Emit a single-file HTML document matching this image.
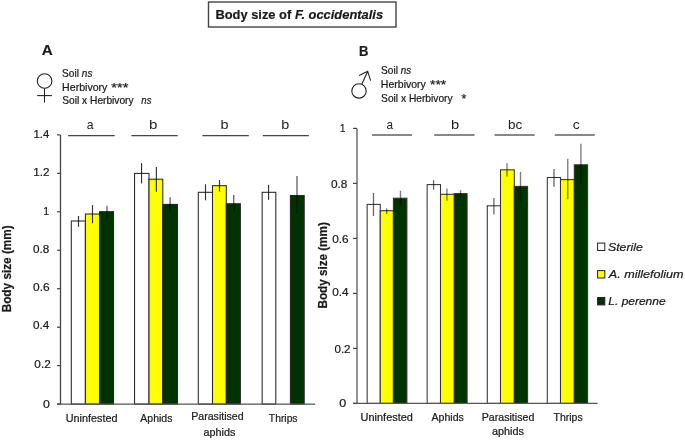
<!DOCTYPE html>
<html><head><meta charset="utf-8"><style>
html,body{margin:0;padding:0;background:#fff;}
svg{display:block;will-change:transform;}
text{font-family:"Liberation Sans", sans-serif;fill:#1a1a1a;stroke:#1a1a1a;stroke-width:0.22px;}
text.thin{stroke-width:0;fill:#222;}
</style></head><body>
<svg width="685" height="440" viewBox="0 0 685 440">
<rect x="208.5" y="2" width="187.5" height="25" fill="#fff" stroke="#444" stroke-width="1.4"/>
<text x="215.47" y="19.20" font-size="13.2" font-weight="bold" font-style="normal" textLength="75.72" lengthAdjust="spacingAndGlyphs">Body size of</text>
<text x="294.96" y="19.20" font-size="13.2" font-weight="bold" font-style="italic" textLength="88.11" lengthAdjust="spacingAndGlyphs">F. occidentalis</text>
<text x="41.80" y="55.40" font-size="15.3" font-weight="bold" font-style="normal" textLength="11.00" lengthAdjust="spacingAndGlyphs">A</text>
<text x="359.05" y="55.90" font-size="15.3" font-weight="bold" font-style="normal" textLength="9.44" lengthAdjust="spacingAndGlyphs">B</text>
<text x="62.11" y="77.00" font-size="10.2" font-weight="normal" font-style="normal" textLength="16.80" lengthAdjust="spacingAndGlyphs">Soil</text>
<text x="81.86" y="77.00" font-size="10.2" font-weight="normal" font-style="italic" textLength="10.51" lengthAdjust="spacingAndGlyphs">ns</text>
<text x="62.12" y="90.60" font-size="10.2" font-weight="normal" font-style="normal" textLength="45.26" lengthAdjust="spacingAndGlyphs">Herbivory</text>
<text x="111.30" y="92.20" font-size="12.0" font-weight="normal" font-style="normal" textLength="17.02" lengthAdjust="spacingAndGlyphs">***</text>
<text x="62.30" y="104.40" font-size="10.2" font-weight="normal" font-style="normal" textLength="71.32" lengthAdjust="spacingAndGlyphs">Soil x Herbivory</text>
<text x="141.37" y="104.40" font-size="10.2" font-weight="normal" font-style="italic" textLength="10.09" lengthAdjust="spacingAndGlyphs">ns</text>
<text x="381.11" y="74.40" font-size="10.2" font-weight="normal" font-style="normal" textLength="16.80" lengthAdjust="spacingAndGlyphs">Soil</text>
<text x="400.76" y="74.40" font-size="10.2" font-weight="normal" font-style="italic" textLength="10.41" lengthAdjust="spacingAndGlyphs">ns</text>
<text x="380.83" y="87.90" font-size="10.2" font-weight="normal" font-style="normal" textLength="45.06" lengthAdjust="spacingAndGlyphs">Herbivory</text>
<text x="430.01" y="88.90" font-size="12.0" font-weight="normal" font-style="normal" textLength="16.30" lengthAdjust="spacingAndGlyphs">***</text>
<text x="381.10" y="101.50" font-size="10.2" font-weight="normal" font-style="normal" textLength="71.52" lengthAdjust="spacingAndGlyphs">Soil x Herbivory</text>
<text x="461.64" y="102.60" font-size="12.0" font-weight="normal" font-style="normal" textLength="4.84" lengthAdjust="spacingAndGlyphs">*</text>
<text x="86.72" y="128.50" font-size="12.6" font-weight="normal" font-style="normal" textLength="6.79" lengthAdjust="spacingAndGlyphs" class="thin">a</text>
<text x="149.00" y="128.50" font-size="12.6" font-weight="normal" font-style="normal" textLength="8.41" lengthAdjust="spacingAndGlyphs" class="thin">b</text>
<text x="220.44" y="128.50" font-size="12.6" font-weight="normal" font-style="normal" textLength="8.04" lengthAdjust="spacingAndGlyphs" class="thin">b</text>
<text x="281.24" y="128.50" font-size="12.6" font-weight="normal" font-style="normal" textLength="8.04" lengthAdjust="spacingAndGlyphs" class="thin">b</text>
<text x="386.43" y="128.50" font-size="12.6" font-weight="normal" font-style="normal" textLength="6.58" lengthAdjust="spacingAndGlyphs" class="thin">a</text>
<text x="451.13" y="128.50" font-size="12.6" font-weight="normal" font-style="normal" textLength="8.17" lengthAdjust="spacingAndGlyphs" class="thin">b</text>
<text x="508.10" y="128.50" font-size="12.6" font-weight="normal" font-style="normal" textLength="14.23" lengthAdjust="spacingAndGlyphs" class="thin">bc</text>
<text x="572.85" y="128.50" font-size="12.6" font-weight="normal" font-style="normal" textLength="6.99" lengthAdjust="spacingAndGlyphs" class="thin">c</text>
<text x="65.73" y="421.80" font-size="10.6" font-weight="normal" font-style="normal" textLength="51.75" lengthAdjust="spacingAndGlyphs">Uninfested</text>
<text x="140.30" y="421.80" font-size="10.6" font-weight="normal" font-style="normal" textLength="32.10" lengthAdjust="spacingAndGlyphs">Aphids</text>
<text x="191.15" y="419.60" font-size="10.6" font-weight="normal" font-style="normal" textLength="52.53" lengthAdjust="spacingAndGlyphs">Parasitised</text>
<text x="203.49" y="436.00" font-size="10.6" font-weight="normal" font-style="normal" textLength="31.84" lengthAdjust="spacingAndGlyphs">aphids</text>
<text x="268.86" y="422.00" font-size="10.6" font-weight="normal" font-style="normal" textLength="28.68" lengthAdjust="spacingAndGlyphs">Thrips</text>
<text x="360.63" y="421.10" font-size="10.6" font-weight="normal" font-style="normal" textLength="52.26" lengthAdjust="spacingAndGlyphs">Uninfested</text>
<text x="431.50" y="421.10" font-size="10.6" font-weight="normal" font-style="normal" textLength="32.30" lengthAdjust="spacingAndGlyphs">Aphids</text>
<text x="481.65" y="420.70" font-size="10.6" font-weight="normal" font-style="normal" textLength="52.73" lengthAdjust="spacingAndGlyphs">Parasitised</text>
<text x="491.99" y="435.00" font-size="10.6" font-weight="normal" font-style="normal" textLength="31.95" lengthAdjust="spacingAndGlyphs">aphids</text>
<text x="553.55" y="421.40" font-size="10.6" font-weight="normal" font-style="normal" textLength="29.09" lengthAdjust="spacingAndGlyphs">Thrips</text>
<text x="607.93" y="250.70" font-size="11.4" font-weight="normal" font-style="italic" textLength="35.01" lengthAdjust="spacingAndGlyphs">Sterile</text>
<text x="608.85" y="277.60" font-size="11.4" font-weight="normal" font-style="italic" textLength="74.73" lengthAdjust="spacingAndGlyphs">A. millefolium</text>
<text x="608.34" y="305.40" font-size="11.4" font-weight="normal" font-style="italic" textLength="57.23" lengthAdjust="spacingAndGlyphs">L. perenne</text>
<text x="43.04" y="407.63" font-size="11.0" font-weight="normal" font-style="normal" textLength="6.88" lengthAdjust="spacingAndGlyphs">0</text>
<text x="34.37" y="368.18" font-size="11.0" font-weight="normal" font-style="normal" textLength="16.31" lengthAdjust="spacingAndGlyphs">0.2</text>
<text x="33.07" y="329.28" font-size="11.0" font-weight="normal" font-style="normal" textLength="16.35" lengthAdjust="spacingAndGlyphs">0.4</text>
<text x="33.06" y="290.78" font-size="11.0" font-weight="normal" font-style="normal" textLength="16.58" lengthAdjust="spacingAndGlyphs">0.6</text>
<text x="33.07" y="253.13" font-size="11.0" font-weight="normal" font-style="normal" textLength="16.29" lengthAdjust="spacingAndGlyphs">0.8</text>
<text x="43.32" y="215.08" font-size="11.0" font-weight="normal" font-style="normal" textLength="5.94" lengthAdjust="spacingAndGlyphs">1</text>
<text x="33.20" y="176.38" font-size="11.0" font-weight="normal" font-style="normal" textLength="16.22" lengthAdjust="spacingAndGlyphs">1.2</text>
<text x="33.43" y="137.98" font-size="11.0" font-weight="normal" font-style="normal" textLength="15.78" lengthAdjust="spacingAndGlyphs">1.4</text>
<text x="339.23" y="406.78" font-size="11.0" font-weight="normal" font-style="normal" textLength="7.00" lengthAdjust="spacingAndGlyphs">0</text>
<text x="334.47" y="352.78" font-size="11.0" font-weight="normal" font-style="normal" textLength="16.10" lengthAdjust="spacingAndGlyphs">0.2</text>
<text x="332.17" y="296.38" font-size="11.0" font-weight="normal" font-style="normal" textLength="16.35" lengthAdjust="spacingAndGlyphs">0.4</text>
<text x="332.16" y="242.78" font-size="11.0" font-weight="normal" font-style="normal" textLength="16.42" lengthAdjust="spacingAndGlyphs">0.6</text>
<text x="330.96" y="187.93" font-size="11.0" font-weight="normal" font-style="normal" textLength="16.45" lengthAdjust="spacingAndGlyphs">0.8</text>
<text x="339.94" y="131.78" font-size="11.0" font-weight="normal" font-style="normal" textLength="5.39" lengthAdjust="spacingAndGlyphs">1</text>
<rect x="71.30" y="221.00" width="14.10" height="183.10" fill="#fff" stroke="#262626" stroke-width="1.05"/>
<rect x="85.40" y="214.00" width="14.10" height="190.10" fill="#ffff00" stroke="#262626" stroke-width="1.05"/>
<rect x="99.50" y="211.70" width="14.05" height="192.40" fill="#003300" stroke="#262626" stroke-width="1.05"/>
<rect x="134.55" y="173.40" width="14.45" height="230.70" fill="#fff" stroke="#262626" stroke-width="1.05"/>
<rect x="149.00" y="179.20" width="13.80" height="224.90" fill="#ffff00" stroke="#262626" stroke-width="1.05"/>
<rect x="162.80" y="204.40" width="14.70" height="199.70" fill="#003300" stroke="#262626" stroke-width="1.05"/>
<rect x="198.30" y="192.30" width="14.20" height="211.80" fill="#fff" stroke="#262626" stroke-width="1.05"/>
<rect x="212.50" y="185.70" width="13.80" height="218.40" fill="#ffff00" stroke="#262626" stroke-width="1.05"/>
<rect x="226.30" y="203.75" width="14.10" height="200.35" fill="#003300" stroke="#262626" stroke-width="1.05"/>
<rect x="262.15" y="192.30" width="13.65" height="211.80" fill="#fff" stroke="#262626" stroke-width="1.05"/>
<rect x="290.40" y="195.50" width="13.80" height="208.60" fill="#003300" stroke="#262626" stroke-width="1.05"/>
<line x1="78.50" y1="216.00" x2="78.50" y2="226.80" stroke="#000" stroke-opacity="0.8" stroke-width="1.15"/>
<line x1="92.50" y1="205.10" x2="92.50" y2="223.20" stroke="#000" stroke-opacity="0.8" stroke-width="1.15"/>
<line x1="107.00" y1="205.80" x2="107.00" y2="217.60" stroke="#000" stroke-opacity="0.62" stroke-width="1.3"/>
<line x1="141.55" y1="163.10" x2="141.55" y2="183.50" stroke="#000" stroke-opacity="0.8" stroke-width="1.15"/>
<line x1="156.35" y1="166.90" x2="156.35" y2="191.70" stroke="#000" stroke-opacity="0.8" stroke-width="1.15"/>
<line x1="170.10" y1="197.20" x2="170.10" y2="211.70" stroke="#000" stroke-opacity="0.62" stroke-width="1.3"/>
<line x1="205.50" y1="184.20" x2="205.50" y2="200.30" stroke="#000" stroke-opacity="0.8" stroke-width="1.15"/>
<line x1="219.50" y1="180.00" x2="219.50" y2="191.60" stroke="#000" stroke-opacity="0.8" stroke-width="1.15"/>
<line x1="233.75" y1="195.00" x2="233.75" y2="211.50" stroke="#000" stroke-opacity="0.62" stroke-width="1.3"/>
<line x1="268.55" y1="184.80" x2="268.55" y2="199.80" stroke="#000" stroke-opacity="0.8" stroke-width="1.15"/>
<line x1="297.00" y1="176.10" x2="297.00" y2="213.90" stroke="#000" stroke-opacity="0.62" stroke-width="1.3"/>
<line x1="60.5" y1="134.90" x2="60.5" y2="404.1" stroke="#444" stroke-width="1.3"/>
<line x1="57.0" y1="404.1" x2="315.2" y2="404.1" stroke="#555" stroke-width="1.4"/>
<line x1="57.0" y1="404.10" x2="60.5" y2="404.10" stroke="#444" stroke-width="1.2"/>
<line x1="57.0" y1="365.64" x2="60.5" y2="365.64" stroke="#444" stroke-width="1.2"/>
<line x1="57.0" y1="327.19" x2="60.5" y2="327.19" stroke="#444" stroke-width="1.2"/>
<line x1="57.0" y1="288.73" x2="60.5" y2="288.73" stroke="#444" stroke-width="1.2"/>
<line x1="57.0" y1="250.27" x2="60.5" y2="250.27" stroke="#444" stroke-width="1.2"/>
<line x1="57.0" y1="211.81" x2="60.5" y2="211.81" stroke="#444" stroke-width="1.2"/>
<line x1="57.0" y1="173.36" x2="60.5" y2="173.36" stroke="#444" stroke-width="1.2"/>
<line x1="57.0" y1="134.90" x2="60.5" y2="134.90" stroke="#444" stroke-width="1.2"/>
<rect x="367.15" y="204.40" width="13.10" height="199.00" fill="#fff" stroke="#333" stroke-width="1.05"/>
<rect x="380.25" y="210.70" width="13.15" height="192.70" fill="#ffff00" stroke="#333" stroke-width="1.05"/>
<rect x="393.40" y="198.20" width="13.50" height="205.20" fill="#003300" stroke="#333" stroke-width="1.05"/>
<rect x="427.15" y="184.60" width="13.35" height="218.80" fill="#fff" stroke="#333" stroke-width="1.05"/>
<rect x="440.50" y="194.30" width="13.80" height="209.10" fill="#ffff00" stroke="#333" stroke-width="1.05"/>
<rect x="454.30" y="193.60" width="12.80" height="209.80" fill="#003300" stroke="#333" stroke-width="1.05"/>
<rect x="487.30" y="205.80" width="13.20" height="197.60" fill="#fff" stroke="#333" stroke-width="1.05"/>
<rect x="500.50" y="169.80" width="13.80" height="233.60" fill="#ffff00" stroke="#333" stroke-width="1.05"/>
<rect x="514.30" y="186.40" width="13.30" height="217.00" fill="#003300" stroke="#333" stroke-width="1.05"/>
<rect x="547.30" y="177.50" width="13.20" height="225.90" fill="#fff" stroke="#333" stroke-width="1.05"/>
<rect x="560.50" y="179.60" width="13.80" height="223.80" fill="#ffff00" stroke="#333" stroke-width="1.05"/>
<rect x="574.30" y="164.80" width="13.30" height="238.60" fill="#003300" stroke="#333" stroke-width="1.05"/>
<line x1="373.50" y1="192.90" x2="373.50" y2="216.10" stroke="#000" stroke-opacity="0.6" stroke-width="1.3"/>
<line x1="386.70" y1="208.20" x2="386.70" y2="213.90" stroke="#000" stroke-opacity="0.5" stroke-width="1.4"/>
<line x1="400.50" y1="190.70" x2="400.50" y2="205.20" stroke="#000" stroke-opacity="0.5" stroke-width="1.4"/>
<line x1="433.60" y1="180.20" x2="433.60" y2="189.80" stroke="#000" stroke-opacity="0.6" stroke-width="1.3"/>
<line x1="446.90" y1="188.40" x2="446.90" y2="200.70" stroke="#000" stroke-opacity="0.5" stroke-width="1.4"/>
<line x1="460.50" y1="190.20" x2="460.50" y2="198.00" stroke="#000" stroke-opacity="0.5" stroke-width="1.4"/>
<line x1="493.90" y1="197.90" x2="493.90" y2="214.50" stroke="#000" stroke-opacity="0.6" stroke-width="1.3"/>
<line x1="507.00" y1="163.20" x2="507.00" y2="176.60" stroke="#000" stroke-opacity="0.5" stroke-width="1.4"/>
<line x1="520.50" y1="171.80" x2="520.50" y2="200.75" stroke="#000" stroke-opacity="0.5" stroke-width="1.4"/>
<line x1="554.00" y1="168.90" x2="554.00" y2="186.70" stroke="#000" stroke-opacity="0.6" stroke-width="1.3"/>
<line x1="567.75" y1="158.80" x2="567.75" y2="199.30" stroke="#000" stroke-opacity="0.5" stroke-width="1.4"/>
<line x1="580.90" y1="143.80" x2="580.90" y2="184.30" stroke="#000" stroke-opacity="0.5" stroke-width="1.4"/>
<line x1="357.0" y1="128.40" x2="357.0" y2="403.4" stroke="#888" stroke-width="1.8"/>
<line x1="353.0" y1="403.4" x2="597.6" y2="403.4" stroke="#555" stroke-width="1.4"/>
<line x1="353.0" y1="403.40" x2="357.0" y2="403.40" stroke="#444" stroke-width="1.2"/>
<line x1="353.0" y1="348.40" x2="357.0" y2="348.40" stroke="#444" stroke-width="1.2"/>
<line x1="353.0" y1="293.40" x2="357.0" y2="293.40" stroke="#444" stroke-width="1.2"/>
<line x1="353.0" y1="238.40" x2="357.0" y2="238.40" stroke="#444" stroke-width="1.2"/>
<line x1="353.0" y1="183.40" x2="357.0" y2="183.40" stroke="#444" stroke-width="1.2"/>
<line x1="353.0" y1="128.40" x2="357.0" y2="128.40" stroke="#444" stroke-width="1.2"/>
<line x1="68.2" y1="135.7" x2="114.7" y2="135.7" stroke="#444" stroke-width="1.2"/>
<line x1="131.4" y1="135.7" x2="177.7" y2="135.7" stroke="#444" stroke-width="1.2"/>
<line x1="202.4" y1="135.6" x2="248.8" y2="135.6" stroke="#444" stroke-width="1.2"/>
<line x1="262.8" y1="135.6" x2="308.9" y2="135.6" stroke="#444" stroke-width="1.2"/>
<line x1="372.0" y1="135.0" x2="412.0" y2="135.0" stroke="#888" stroke-width="1.8"/>
<line x1="434.2" y1="135.0" x2="474.5" y2="135.0" stroke="#888" stroke-width="1.8"/>
<line x1="494.5" y1="135.0" x2="534.7" y2="135.0" stroke="#888" stroke-width="1.8"/>
<line x1="554.8" y1="135.0" x2="594.8" y2="135.0" stroke="#888" stroke-width="1.8"/>
<g transform="translate(10.9,311.7) rotate(-90)"><text x="-0.68" y="0" font-size="13.0" font-weight="bold" textLength="87.15" lengthAdjust="spacingAndGlyphs">Body size (mm)</text></g>
<g transform="translate(327.0,307.9) rotate(-90)"><text x="-0.67" y="0" font-size="13.0" font-weight="bold" textLength="86.34" lengthAdjust="spacingAndGlyphs">Body size (mm)</text></g>
<rect x="597.6" y="243.1" width="7.2" height="7.4" fill="#fff" stroke="#222" stroke-width="1"/>
<rect x="597.6" y="270.6" width="7.2" height="7.4" fill="#ffff00" stroke="#222" stroke-width="1"/>
<rect x="597.6" y="297.5" width="7.2" height="7.4" fill="#003300" stroke="#222" stroke-width="1"/>
<circle cx="44.6" cy="81.0" r="7.3" fill="none" stroke="#222" stroke-width="1.1"/>
<line x1="44.5" y1="88.3" x2="44.5" y2="102.6" stroke="#222" stroke-width="1.1"/>
<line x1="37.2" y1="95.6" x2="51.9" y2="95.6" stroke="#222" stroke-width="1.1"/>
<circle cx="359.0" cy="90.9" r="7.2" fill="none" stroke="#222" stroke-width="1.1"/>
<path d="M361.8,84.3 L367.7,71.2 M359.1,75.5 L367.7,71.2 L370.6,80.6" fill="none" stroke="#222" stroke-width="1.1"/>
</svg>
</body></html>
